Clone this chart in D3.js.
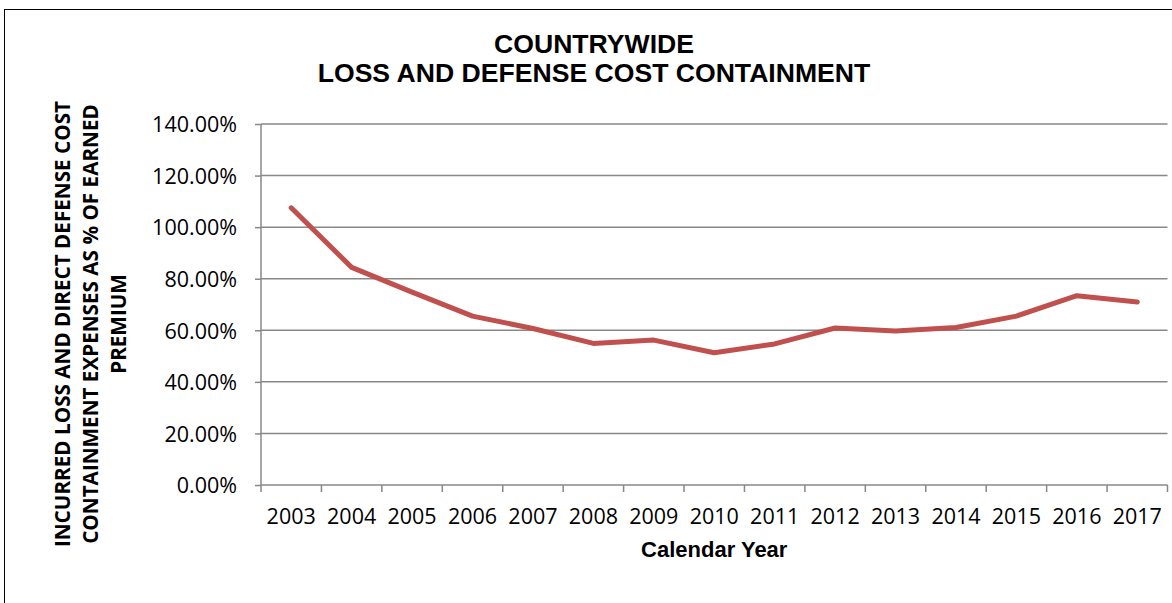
<!DOCTYPE html>
<html><head><meta charset="utf-8">
<script src="https://cdn.jsdelivr.net/npm/d3@7"></script>
<style>body{margin:0;background:#fff}svg{display:block}</style>
</head><body>
<script>
const years = ["2003","2004","2005","2006","2007","2008","2009","2010","2011","2012","2013","2014","2015","2016","2017"];
const values = [107.5,84.4,74.8,65.5,60.7,54.9,56.2,51.3,54.7,60.9,59.7,61.1,65.5,73.4,71.0];
const yTicks = [0,20,40,60,80,100,120,140];
const titleLines = ["COUNTRYWIDE","LOSS AND DEFENSE COST CONTAINMENT"];
const yTitleLines = ["INCURRED LOSS AND DIRECT DEFENSE COST","CONTAINMENT EXPENSES AS % OF EARNED","PREMIUM"];
const xTitle = "Calendar Year";

const W=1172,H=603;
const m={left:261,right:1167.5,top:124,bottom:485};
const svg=d3.select("body").append("svg").attr("width",W).attr("height",H);
svg.append("rect").attr("x",4.5).attr("y",9.5).attr("width",W+10).attr("height",H+10).attr("fill","#fff").attr("stroke","#000").attr("stroke-width",1);

const x=d3.scaleBand().domain(years).range([m.left,m.right]);
const y=d3.scaleLinear().domain([0,140]).range([m.bottom,m.top]);

const gridColor="#888888";
svg.append("g").selectAll("line").data(yTicks.filter(d=>d>0)).join("line")
 .attr("x1",m.left).attr("x2",m.right).attr("y1",d=>y(d)).attr("y2",d=>y(d))
 .attr("stroke",gridColor).attr("stroke-width",1.5);

const ya=svg.append("g").attr("transform",`translate(${m.left},0)`)
 .call(d3.axisLeft(y).tickValues(yTicks).tickSize(6).tickFormat(d=>d.toFixed(2)+"%"));
ya.select(".domain").attr("stroke",gridColor).attr("stroke-width",1.5).attr("d",`M0,${m.top}V${m.bottom}`);
ya.selectAll(".tick line").attr("stroke",gridColor).attr("stroke-width",1.5);
ya.selectAll(".tick text").attr("x",-24).attr("dy","0.36em").attr("fill","#000")
 .style("font-family","'Open Sans'").style("font-size","21.5px");

const xa=svg.append("g").attr("transform",`translate(0,${m.bottom})`)
 .call(d3.axisBottom(x).tickSize(0).tickPadding(0));
xa.select(".domain").attr("stroke",gridColor).attr("stroke-width",1.5).attr("d",`M${m.left},0H${m.right}`);
xa.selectAll(".tick text").attr("y",39).attr("dy",0).attr("fill","#000")
 .style("font-family","'Open Sans'").style("font-size","21.5px");
const bounds=years.map(d=>x(d)).concat([x(years[years.length-1])+x.bandwidth()]);
svg.append("g").selectAll("line").data(bounds).join("line")
 .attr("x1",d=>d).attr("x2",d=>d).attr("y1",m.bottom).attr("y2",m.bottom+7)
 .attr("stroke",gridColor).attr("stroke-width",1.5);

const line=d3.line().x((d,i)=>x(years[i])+x.bandwidth()/2).y(d=>y(d));
svg.append("path").datum(values).attr("d",line).attr("fill","none")
 .attr("stroke","#C0504D").attr("stroke-width",5).attr("stroke-linejoin","round").attr("stroke-linecap","round");

svg.append("g").selectAll("text").data(titleLines).join("text")
 .attr("x",594).attr("y",(d,i)=>53+i*29).attr("text-anchor","middle")
 .style("font-family","'Liberation Sans',Arial").style("font-weight","bold").style("font-size","26.6px")
 .text(d=>d);

const yt=svg.append("text").attr("transform","translate(70,324) rotate(-90)").attr("text-anchor","middle")
 .style("font-family","'Open Sans'").style("font-weight","bold").style("font-size","20.7px");
yt.selectAll("tspan").data(yTitleLines).join("tspan").attr("x",0).attr("y",(d,i)=>i*28).text(d=>d);

svg.append("text").attr("x",(m.left+m.right)/2).attr("y",557).attr("text-anchor","middle")
 .style("font-family","'Liberation Sans',Arial").style("font-weight","bold").style("font-size","22px").text(xTitle);
</script>
</body></html>
